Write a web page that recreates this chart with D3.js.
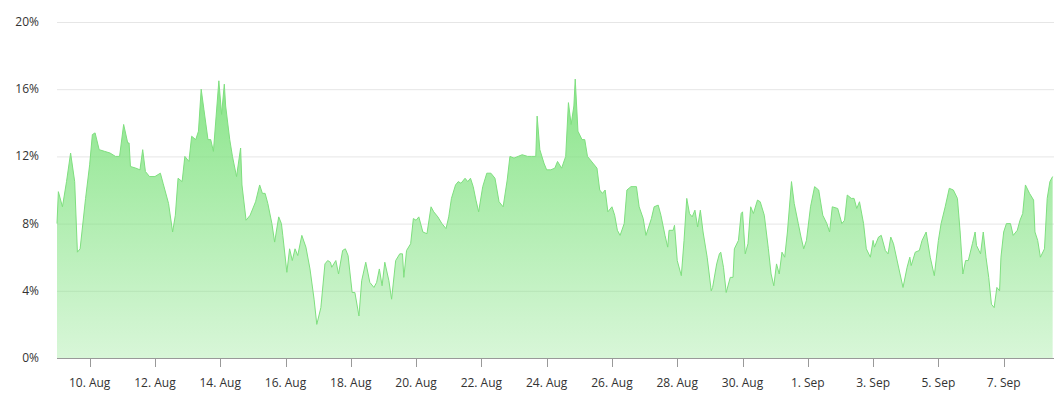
<!DOCTYPE html>
<html><head><meta charset="utf-8">
<script src="https://cdn.jsdelivr.net/npm/d3@7"></script>
<style>body{margin:0;background:#fff;font-family:"Open Sans",sans-serif}</style>
</head><body><svg id="c" width="1062" height="400"></svg>
<script>
const startDate = new Date(2024, 7, 9, 0, 0);
const hours = [0,1,4,7,10,13,15,17,21,24,26,28,31,35,39,43,46,49,52,53,54,58,61,63,65,68,72,76,78,82,85,87,89,92,94,97,99,102,104,106,108,111,113,115,117,119,121,123,124,127,129,132,135,136,139,142,146,149,151,153,155,158,160,163,165,166,169,171,173,175,177,180,183,186,189,191,194,197,199,201,202,205,207,210,212,214,217,219,222,224,227,230,233,235,237,239,241,244,246,249,252,254,255,257,260,262,264,266,269,272,275,277,280,283,286,288,290,293,295,297,300,302,304,306,308,310,313,316,319,322,325,328,331,333,336,339,342,346,349,352,353,355,358,360,363,366,368,371,374,376,378,380,381,383,386,388,390,394,397,399,401,403,405,408,410,412,414,417,419,422,426,428,431,433,435,437,439,442,444,447,449,450,453,454,456,459,461,463,465,467,469,471,473,475,478,481,482,485,487,488,490,492,495,497,498,501,503,504,506,508,510,512,515,517,520,523,525,527,529,531,533,535,537,540,542,545,547,549,551,554,557,560,563,566,568,570,574,577,579,581,584,586,588,590,593,595,598,600,601,604,606,609,611,613,615,619,622,625,627,628,631,634,636,639,642,645,648,650,653,656,659,662,664,666,668,670,673,675,676,679,681,683,685,687,689,691,693,694,696,698,701,703,706,708,710,712,715,718,719,721,723,726,728,730,732];
const values = [8.0,9.9,9.0,10.5,12.2,10.5,6.3,6.5,9.5,11.5,13.3,13.4,12.4,12.3,12.2,12.0,12.0,13.9,12.8,12.8,11.4,11.3,11.2,12.4,11.1,10.8,10.8,11.0,10.4,9.2,7.5,8.5,10.7,10.5,12.0,11.7,13.2,13.0,13.5,16.0,14.8,13.0,13.0,12.3,14.4,16.5,14.5,16.3,15.0,13.0,12.0,10.8,12.5,10.3,8.2,8.5,9.3,10.3,9.8,9.8,9.2,8.0,6.9,8.4,8.0,7.3,5.1,6.5,5.8,6.5,6.1,7.3,6.6,5.3,3.5,2.0,3.0,5.6,5.8,5.7,5.4,5.8,5.0,6.4,6.5,6.1,3.9,3.9,2.5,4.6,5.7,4.5,4.2,4.5,5.3,4.3,5.7,4.6,3.5,5.8,6.2,6.2,4.8,6.4,6.8,8.3,8.2,8.4,7.5,7.4,9.0,8.7,8.4,8.0,7.7,8.4,9.5,10.3,10.5,10.4,10.7,10.5,10.7,10.2,9.4,8.7,10.2,11.0,11.0,10.7,9.3,9.0,10.6,12.0,11.9,12.0,12.1,12.0,12.0,12.0,14.4,12.4,11.6,11.2,11.2,11.3,11.7,11.3,12.0,15.2,13.9,15.0,16.6,13.5,13.0,13.0,12.0,11.6,11.3,10.0,9.8,10.0,8.7,9.0,8.5,7.6,7.3,8.0,10.0,10.2,10.2,9.0,8.3,7.3,7.8,8.3,9.0,9.1,8.5,7.3,6.6,7.6,7.6,7.9,5.8,4.9,7.0,9.5,8.6,8.4,8.8,7.8,8.8,7.5,6.0,4.0,4.2,5.6,6.2,6.3,5.4,3.9,4.8,4.8,6.5,7.0,8.6,8.7,6.2,6.8,9.0,8.6,9.4,9.3,8.5,6.5,5.0,4.3,5.6,5.0,6.3,6.0,7.5,10.5,9.2,8.0,7.2,6.5,7.0,9.0,10.2,10.0,8.5,8.0,7.5,9.0,8.9,8.0,8.2,9.7,9.5,9.5,8.9,9.3,8.0,6.5,6.0,7.0,6.6,7.2,7.3,6.4,6.2,7.2,6.8,5.3,4.2,5.4,6.0,5.5,6.3,6.4,7.0,7.5,6.0,4.9,7.0,8.0,9.0,10.1,10.0,9.5,7.5,5.0,5.8,5.8,6.8,7.5,6.7,6.2,7.5,6.0,4.8,3.2,3.0,4.2,4.0,6.0,7.5,8.0,8.0,7.3,7.6,8.2,8.6,10.3,9.8,9.4,7.5,7.0,6.0,6.5,9.5,10.5,10.8];
const yTicks = [0,4,8,12,16,20];
const dayTicks = [1,3,5,7,9,11,13,15,17,19,21,23,25,27,29];

const data = hours.map((h,i)=>({t:d3.timeHour.offset(startDate,h), v:values[i]}));
const svg = d3.select("#c");
const L=57,R=1054,T=22,B=358;
const x = d3.scaleTime().domain([startDate, d3.timeHour.offset(startDate,733)]).range([L,R]);
const y = d3.scaleLinear().domain([0,20]).range([B,T]);

const defs = svg.append("defs");
const g = defs.append("linearGradient").attr("id","gr").attr("x1",0).attr("x2",0).attr("y1",0).attr("y2",1);
g.append("stop").attr("offset","0%").attr("stop-color","#7de27d").attr("stop-opacity",0.9);
g.append("stop").attr("offset","100%").attr("stop-color","#7de27d").attr("stop-opacity",0.3);

svg.append("g").selectAll("line").data(yTicks).join("line")
  .attr("x1",L).attr("x2",R).attr("y1",d=>y(d)+0.5).attr("y2",d=>y(d)+0.5)
  .attr("stroke","#e6e6e6");
svg.append("g").selectAll("text").data(yTicks).join("text")
  .attr("x",39).attr("y",d=>y(d)+4).attr("text-anchor","end")
  .attr("font-size",12).attr("fill","#333").text(d=>d+"%");

const area = d3.area().x(d=>x(d.t)).y0(B).y1(d=>y(d.v)).curve(d3.curveLinear);
svg.append("path").datum(data).attr("d",area).attr("fill","url(#gr)");
svg.append("path").datum(data).attr("d",d3.line().x(d=>x(d.t)).y(d=>y(d.v)))
  .attr("fill","none").attr("stroke","#7fdf7f").attr("stroke-width",1);

const xt = dayTicks.map(d=>d3.timeDay.offset(startDate,d));
const fmt = d3.timeFormat("%b");
const ax = svg.append("g");
ax.append("line").attr("x1",L).attr("x2",R).attr("y1",B+0.5).attr("y2",B+0.5).attr("stroke","#999");
ax.selectAll("line.t").data(xt).join("line").attr("class","t")
  .attr("x1",d=>Math.round(x(d))+0.5).attr("x2",d=>Math.round(x(d))+0.5)
  .attr("y1",B).attr("y2",B+9).attr("stroke","#999");
ax.selectAll("text").data(xt).join("text")
  .attr("x",d=>x(d)).attr("y",B+29).attr("text-anchor","middle")
  .attr("font-size",12).attr("fill","#333")
  .text(d=>d.getDate()+". "+fmt(d));
</script></body></html>
